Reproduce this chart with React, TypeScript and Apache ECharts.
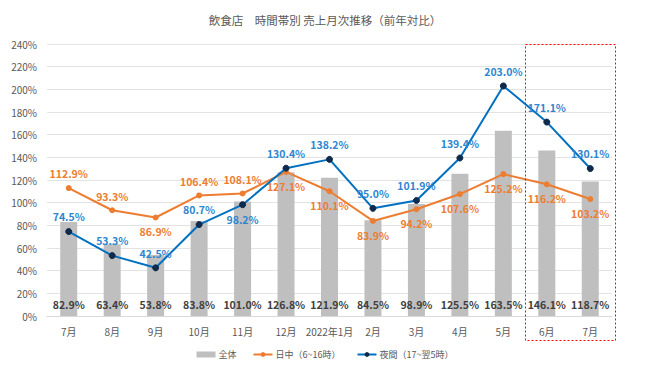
import React, { useEffect, useRef } from "react";
import * as echarts from "echarts";

const categories = ["7月", "8月", "9月", "10月", "11月", "12月", "2022年1月", "2月", "3月", "4月", "5月", "6月", "7月"];
const totalValues = [82.9, 63.4, 53.8, 83.8, 101.0, 126.8, 121.9, 84.5, 98.9, 125.5, 163.5, 146.1, 118.7];
const dayValues = [112.9, 93.3, 86.9, 106.4, 108.1, 127.1, 110.1, 83.9, 94.2, 107.6, 125.2, 116.2, 103.2];
const nightValues = [74.5, 53.3, 42.5, 80.7, 98.2, 130.4, 138.2, 95.0, 101.9, 139.4, 203.0, 171.1, 130.1];
const dayLabelPos = ["top", "top", "bottom", "top", "top", "bottom", "bottom", "bottom", "bottom", "bottom", "bottom", "bottom", "bottom"];
const nightLabelPos = ["top", "top", "top", "top", "bottom", "top", "top", "top", "top", "top", "top", "top", "top"];

const FONT = "'Noto Sans CJK JP', 'Noto Sans', sans-serif";

export default function App() {
  const ref = useRef<HTMLDivElement>(null);
  useEffect(() => {
    if (!ref.current) return;
    document.body.style.margin = "0";
    const chart = echarts.init(ref.current, undefined, { renderer: "svg" });
    const pct = (p: any) => Number(p.value).toFixed(1) + "%";
    chart.setOption({
      animation: false,
      textStyle: { fontFamily: FONT },
      title: {
        text: "飲食店　時間帯別 売上月次推移（前年対比）",
        left: "center",
        top: 9,
        textStyle: { fontSize: 11.5, fontWeight: "normal", color: "#595959", fontFamily: FONT },
      },
      grid: { left: 47, right: 38, top: 44, bottom: 57 },
      legend: {
        bottom: 9,
        left: "center",
        itemGap: 16,
        itemWidth: 19,
        itemHeight: 6,
        textStyle: { fontSize: 9, color: "#595959", fontFamily: FONT, padding: [0, 0, 0, -2] },
        data: [
          { name: "全体", icon: "rect" },
          { name: "日中（6~16時）" },
          { name: "夜間（17~翌5時）" },
        ],
      },
      xAxis: {
        type: "category",
        data: categories,
        axisTick: { show: false },
        axisLine: { lineStyle: { color: "#D9D9D9" } },
        axisLabel: { fontSize: 10, color: "#595959", margin: 10, interval: 0 },
      },
      yAxis: {
        type: "value",
        min: 0,
        max: 240,
        interval: 20,
        axisLabel: { formatter: "{value}%", fontSize: 10, color: "#595959", margin: 10 },
        splitLine: { lineStyle: { color: "#E3E3E3", width: 1 } },
        axisLine: { show: false },
        axisTick: { show: false },
      },
      series: [
        {
          name: "全体",
          type: "bar",
          data: totalValues,
          barWidth: 17,
          itemStyle: { color: "#BFBFBF" },
          label: {
            show: true,
            position: "insideBottom",
            distance: 6,
            formatter: pct,
            fontSize: 10.5,
            fontWeight: "bold",
            color: "#404040",
          },
          z: 1,
        },
        {
          name: "日中（6~16時）",
          type: "line",
          data: dayValues.map((v, i) => ({ value: v, label: { position: dayLabelPos[i] } })),
          symbol: "circle",
          symbolSize: 6,
          lineStyle: { color: "#ED7D31", width: 2 },
          itemStyle: { color: "#ED7D31" },
          label: {
            show: true,
            formatter: pct,
            fontSize: 10.5,
            fontWeight: "bold",
            color: "#ED7D31",
            distance: 6,
          },
          z: 3,
        },
        {
          name: "夜間（17~翌5時）",
          type: "line",
          data: nightValues.map((v, i) => ({ value: v, label: { position: nightLabelPos[i] } })),
          symbol: "circle",
          symbolSize: 6,
          lineStyle: { color: "#0070C0", width: 2 },
          itemStyle: { color: "#0F2A4A", borderColor: "#0F2A4A" },
          label: {
            show: true,
            formatter: pct,
            fontSize: 10.5,
            fontWeight: "bold",
            color: "#2E86D1",
            distance: 6,
          },
          z: 4,
        },
      ],
      graphic: [
        {
          type: "rect",
          shape: { x: 525.5, y: 44.5, width: 90, height: 296 },
          style: { fill: "none", stroke: "#FF0000", lineWidth: 1, lineDash: [2, 2] },
          z: 10,
        },
      ],
    });
    return () => chart.dispose();
  }, []);
  return <div ref={ref} style={{ width: 650, height: 373 }} />;
}
